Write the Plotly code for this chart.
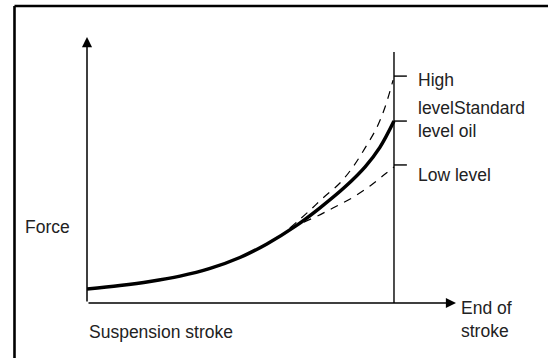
import plotly.graph_objects as go

# Suspension stroke (% of full travel) and force (% of axis height)
stroke_std = [0, 10.7, 20.5, 30.3, 40.1, 49.8, 58.6, 67.8, 75.9, 84.0, 90.6, 95.4, 100]
force_std = [5.3, 6.6, 8.1, 10.1, 13.0, 17.1, 22.2, 28.8, 35.8, 43.6, 51.2, 58.5, 68.4]

stroke_high = [66.1, 72.0, 76.9, 82.4, 86.6, 90.6, 94.5, 97.1, 99.7]
force_high = [28.2, 34.2, 39.5, 45.1, 51.1, 58.3, 66.2, 73.7, 83.8]

stroke_low = [66.1, 74.3, 80.1, 86.3, 92.2, 97.1, 100]
force_low = [28.2, 32.3, 35.7, 39.5, 44.0, 48.5, 51.1]

# Oil level marks on the end-of-stroke line
level_values = [85.3, 68.4, 51.9]
level_labels = ["High", "levelStandard<br>level oil", "Low level"]
level_label_pos = [83.8, 68.8, 48.1]

END_STROKE = 100
X_MAX = 120.2
Y_MAX = 100

FONT = dict(family="Liberation Sans, Arial, sans-serif", size=17.5, color="#222222")

fig = go.Figure()

dash_line = dict(color="black", width=1.2, dash="8px,7px", shape="spline", smoothing=1.0)
fig.add_trace(go.Scatter(x=stroke_high, y=force_high, mode="lines", line=dash_line,
                         hoverinfo="skip", showlegend=False))
fig.add_trace(go.Scatter(x=stroke_low, y=force_low, mode="lines", line=dash_line,
                         hoverinfo="skip", showlegend=False))
fig.add_trace(go.Scatter(
    x=stroke_std, y=force_std, mode="lines",
    line=dict(color="black", width=3.5, shape="spline", smoothing=1.0),
    hoverinfo="skip", showlegend=False))

frame = dict(color="black", width=2.6)
shapes = [
    # outer frame: left and top edges
    dict(type="line", xref="paper", yref="paper", x0=-0.1965, x1=-0.1965,
         y0=-0.4, y1=1.1165, line=frame),
    dict(type="line", xref="paper", yref="paper", x0=-0.1965, x1=1.4,
         y0=1.1165, y1=1.1165, line=frame),
    # end-of-stroke line
    dict(type="line", xref="x", yref="y", x0=END_STROKE, x1=END_STROKE,
         y0=0, y1=94.4, line=dict(color="black", width=1.4)),
]
for v in level_values:
    shapes.append(dict(type="line", xref="x", yref="y",
                       x0=END_STROKE, x1=104.2, y0=v, y1=v,
                       line=dict(color="black", width=1.4)))

annotations = []
# axis arrows
for hx, hy in [(0, Y_MAX), (X_MAX, 0)]:
    annotations.append(dict(x=hx, y=hy, ax=0, ay=0, xref="x", yref="y",
                            axref="x", ayref="y", text="", showarrow=True,
                            arrowhead=2, arrowwidth=1.5, arrowsize=1.35,
                            arrowcolor="black"))

# level labels
for t, yv in zip(level_labels, level_label_pos):
    annotations.append(dict(x=107.2, y=yv, xref="x", yref="y", text=t,
                            showarrow=False, xanchor="left", yanchor="middle",
                            align="left", font=FONT))

# axis titles
annotations.append(dict(x=-0.1734, y=0.2857, xref="paper", yref="paper", text="Force",
                        showarrow=False, xanchor="left", yanchor="middle", font=FONT))
annotations.append(dict(x=0, y=-0.109, xref="paper", yref="paper",
                        text="Suspension stroke", showarrow=False,
                        xanchor="left", yanchor="middle", font=FONT))
annotations.append(dict(x=1.0081, y=-0.062, xref="paper", yref="paper",
                        text="End of<br>stroke", showarrow=False, align="left",
                        xanchor="left", yanchor="middle", font=FONT))

fig.update_layout(
    width=548, height=358,
    margin=dict(l=87, r=92, t=37, b=55),
    paper_bgcolor="white", plot_bgcolor="white",
    xaxis=dict(range=[0, X_MAX], visible=False, fixedrange=True),
    yaxis=dict(range=[0, Y_MAX], visible=False, fixedrange=True),
    shapes=shapes, annotations=annotations,
    showlegend=False,
)

fig.write_html("out.html", config={"displayModeBar": False})
